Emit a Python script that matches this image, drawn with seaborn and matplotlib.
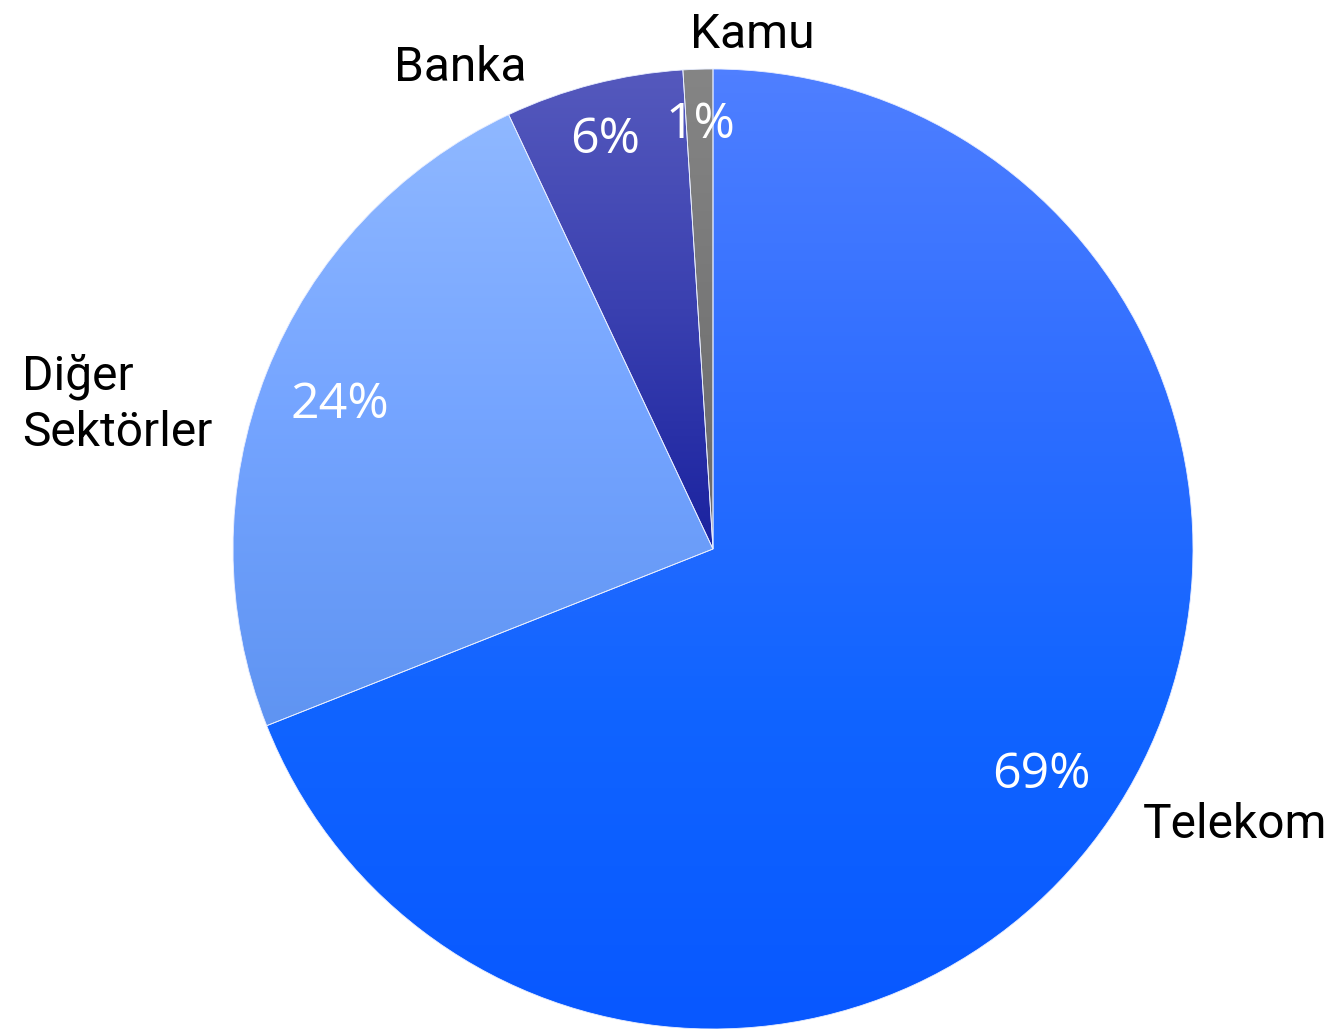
import numpy as np
import matplotlib
matplotlib.use("Agg")
import matplotlib.pyplot as plt
import seaborn as sns
from matplotlib.colors import LinearSegmentedColormap

sns.set_theme(style="white")
plt.rcParams['font.family'] = ['Roboto', 'DejaVu Sans']

categories = ["Telekom", "Diğer\nSektörler", "Banka", "Kamu"]
values = [69, 24, 6, 1]
pct_labels = ["69%", "24%", "6%", "1%"]
# gradient top -> bottom per slice
grad_colors = [
    ["#4f7fff", "#2f6eff", "#1064ff", "#0858ff"],
    ["#8fb8ff", "#74a4ff", "#5f94f2"],
    ["#5559bd", "#3a40b0", "#1a229f"],
    ["#858585", "#6a6a6a"],
]

fig = plt.figure(figsize=(13.31, 10.29), dpi=100)
ax = fig.add_axes([0, 0, 1, 1])

wedges, texts, autotexts = ax.pie(
    values, labels=categories, startangle=90, counterclock=False,
    autopct=lambda p: f"{p:.0f}%", pctdistance=0.83, labeldistance=1.1,
    wedgeprops=dict(edgecolor="#e8eeff", linewidth=0.6),
    textprops=dict(fontsize=34), frame=True,
)
ax.set_xlim(-713 / 480, (1331 - 713) / 480)
ax.set_ylim(-(1029 - 549) / 480, 549 / 480)
ax.set_aspect("auto")
ax.axis("off")

for w, cols in zip(wedges, grad_colors):
    cmap = LinearSegmentedColormap.from_list("g", cols)
    grad = np.linspace(0, 1, 256).reshape(-1, 1)
    bb = w.get_path().get_extents(w.get_patch_transform())
    im = ax.imshow(grad, cmap=cmap, aspect="auto",
                   extent=[bb.x0, bb.x1, bb.y0, bb.y1], origin="upper",
                   zorder=w.get_zorder(), interpolation="bilinear")
    im.set_clip_path(w)
    w.set_facecolor("none")
    w.set_zorder(w.get_zorder() + 0.5)

# outer labels
label_pos = [(0.896, -0.575, "left"), (-1.440, 0.30, "left"),
             (-0.527, 1.002, "center"), (0.081, 1.071, "center")]
for t, (x, y, ha) in zip(texts, label_pos):
    t.set_position((x, y))
    t.set_ha(ha)
    t.set_va("center")
    t.set_multialignment("left")
    t.set_color("black")
    t.set_fontsize(34.5)
    t.set_linespacing(1.28)
    t.set_zorder(5)

pct_pos = [(0.685, -0.471), (-0.777, 0.30), (-0.225, 0.852), (-0.027, 0.883)]
for t, lbl, (x, y) in zip(autotexts, pct_labels, pct_pos):
    t.set_text(lbl)
    t.set_position((x, y))
    t.set_ha("center")
    t.set_va("center")
    t.set_color("white")
    t.set_fontsize(36)
    t.set_fontfamily(["Open Sans", "DejaVu Sans"])
    t.set_zorder(5)

fig.savefig("out.png", dpi=100, facecolor="white")
